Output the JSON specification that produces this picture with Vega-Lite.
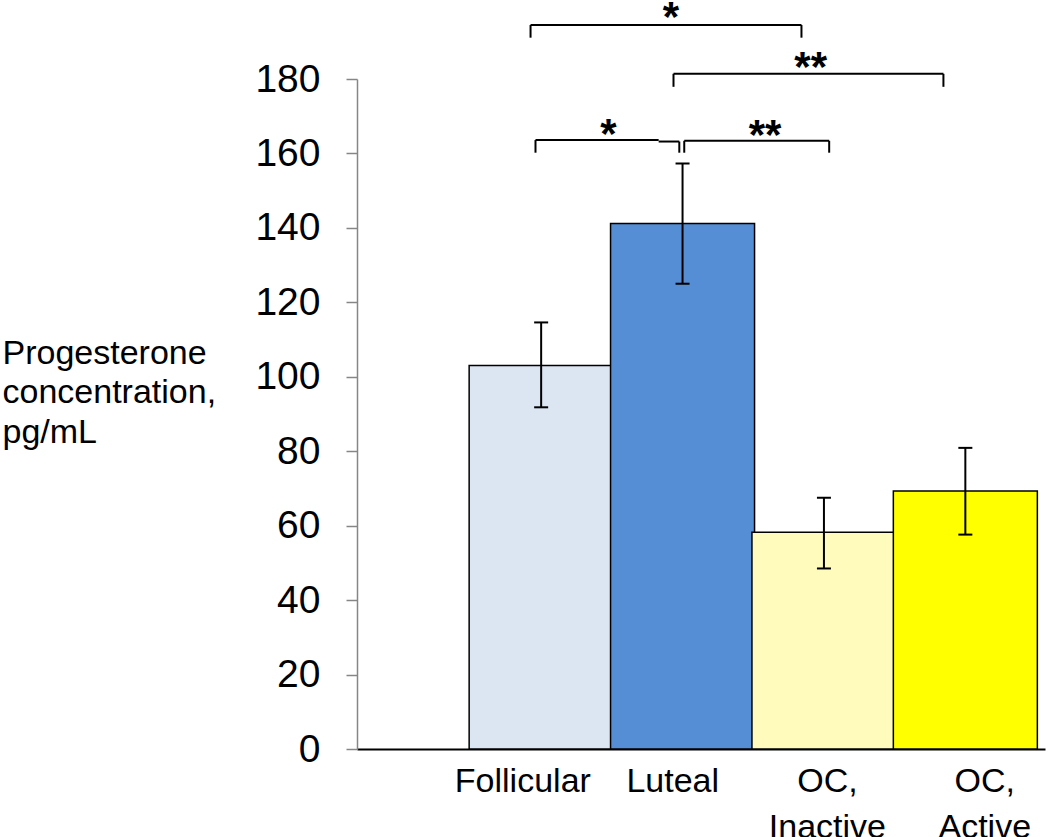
{
  "$schema": "https://vega.github.io/schema/vega-lite/v6.json",
  "width": 688,
  "height": 670,
  "autosize": {"type": "none"},
  "padding": {"left": 357, "top": 79, "right": 5, "bottom": 88},
  "background": "white",
  "config": {
    "view": {"stroke": null},
    "font": "Liberation Sans",
    "axis": {"grid": false}
  },
  "datasets": {
    "bars": [
      {"group": "Follicular", "center": 0.5, "mean": 103.0, "lo": 91.8, "hi": 114.6},
      {"group": "Luteal", "center": 1.5, "mean": 141.2, "lo": 125.0, "hi": 157.3},
      {"group": "OC, Inactive", "center": 2.5, "mean": 58.2, "lo": 48.5, "hi": 67.5},
      {"group": "OC, Active", "center": 3.5, "mean": 69.3, "lo": 57.6, "hi": 80.9}
    ],
    "brackets": [
      {"x": 0.425, "x2": 2.341, "y": 194.5, "y2": 194.5},
      {"x": 0.425, "x2": 0.425, "y": 194.5, "y2": 191.1},
      {"x": 2.341, "x2": 2.341, "y": 194.5, "y2": 191.1},
      {"x": 1.436, "x2": 3.345, "y": 181.4, "y2": 181.4},
      {"x": 1.436, "x2": 1.436, "y": 181.4, "y2": 177.9},
      {"x": 3.345, "x2": 3.345, "y": 181.4, "y2": 177.9},
      {"x": 0.46, "x2": 1.331, "y": 163.6, "y2": 163.6},
      {"x": 1.331, "x2": 1.477, "y": 163.2, "y2": 163.2},
      {"x": 0.46, "x2": 0.46, "y": 163.6, "y2": 160.2},
      {"x": 1.477, "x2": 1.477, "y": 163.2, "y2": 160.2},
      {"x": 1.512, "x2": 2.537, "y": 163.4, "y2": 163.4},
      {"x": 1.512, "x2": 1.512, "y": 163.4, "y2": 160.2},
      {"x": 2.537, "x2": 2.537, "y": 163.4, "y2": 160.2}
    ],
    "stars": [
      {"x": 1.417, "y": 193.0, "label": "*"},
      {"x": 2.406, "y": 179.4, "label": "**"},
      {"x": 0.976, "y": 161.5, "label": "*"},
      {"x": 2.083, "y": 161.1, "label": "**"}
    ]
  },
  "layer": [
    {
      "data": {"name": "bars"},
      "mark": {"type": "bar", "size": 144, "stroke": "black", "strokeWidth": 1.5},
      "encoding": {
        "x": {
          "field": "center", "type": "quantitative",
          "scale": {"domain": [-0.767, 4.028], "nice": false, "zero": false},
          "axis": {
            "title": null,
            "values": [0.367, 1.427, 2.521, 3.634],
            "labelExpr": "datum.value < 1 ? 'Follicular' : datum.value < 2 ? 'Luteal' : datum.value < 3 ? ['OC,', 'Inactive'] : ['OC,', 'Active']",
            "ticks": false,
            "domainColor": "black",
            "domainWidth": 2,
            "labelFontSize": 34,
            "labelColor": "black",
            "labelPadding": 15,
            "labelLineHeight": 46,
            "labelAlign": "center",
            "labelBaseline": "top",
            "labelOverlap": false,
            "labelFlush": false
          }
        },
        "y": {
          "field": "mean", "type": "quantitative",
          "scale": {"domain": [0, 180], "nice": false},
          "axis": {
            "values": [0, 20, 40, 60, 80, 100, 120, 140, 160, 180],
            "title": ["Progesterone", "concentration,", "pg/mL"],
            "titleAngle": 0,
            "titleAlign": "left",
            "titleBaseline": "alphabetic",
            "titleX": -355,
            "titleY": 284,
            "titleFontSize": 34,
            "titleFontWeight": "normal",
            "titleColor": "black",
            "titleLineHeight": 39.5,
            "domainColor": "#868686",
            "domainWidth": 1.5,
            "tickColor": "#868686",
            "tickSize": 11,
            "tickWidth": 1.5,
            "labelFontSize": 39,
            "labelColor": "black",
            "labelPadding": 26,
            "labelFlush": false,
            "labelOverlap": false
          }
        },
        "color": {
          "field": "group", "type": "nominal",
          "scale": {
            "domain": ["Follicular", "Luteal", "OC, Inactive", "OC, Active"],
            "range": ["#dce6f2", "#558ed5", "#fffbbd", "#ffff00"]
          },
          "legend": null
        }
      }
    },
    {
      "data": {"name": "bars"},
      "mark": {"type": "rule", "color": "black", "strokeWidth": 2},
      "encoding": {
        "x": {"field": "center", "type": "quantitative"},
        "y": {"field": "lo", "type": "quantitative"},
        "y2": {"field": "hi"}
      }
    },
    {
      "data": {"name": "bars"},
      "mark": {"type": "tick", "orient": "horizontal", "size": 14, "thickness": 2, "color": "black", "opacity": 1},
      "encoding": {
        "x": {"field": "center", "type": "quantitative"},
        "y": {"field": "lo", "type": "quantitative"}
      }
    },
    {
      "data": {"name": "bars"},
      "mark": {"type": "tick", "orient": "horizontal", "size": 14, "thickness": 2, "color": "black", "opacity": 1},
      "encoding": {
        "x": {"field": "center", "type": "quantitative"},
        "y": {"field": "hi", "type": "quantitative"}
      }
    },
    {
      "data": {"name": "brackets"},
      "mark": {"type": "rule", "color": "black", "strokeWidth": 2, "clip": false},
      "encoding": {
        "x": {"field": "x", "type": "quantitative"},
        "x2": {"field": "x2"},
        "y": {"field": "y", "type": "quantitative"},
        "y2": {"field": "y2"}
      }
    },
    {
      "data": {"name": "stars"},
      "mark": {"type": "text", "fontSize": 42, "fontWeight": "bold", "color": "black", "align": "center", "baseline": "alphabetic", "clip": false},
      "encoding": {
        "x": {"field": "x", "type": "quantitative"},
        "y": {"field": "y", "type": "quantitative"},
        "text": {"field": "label"}
      }
    }
  ]
}
